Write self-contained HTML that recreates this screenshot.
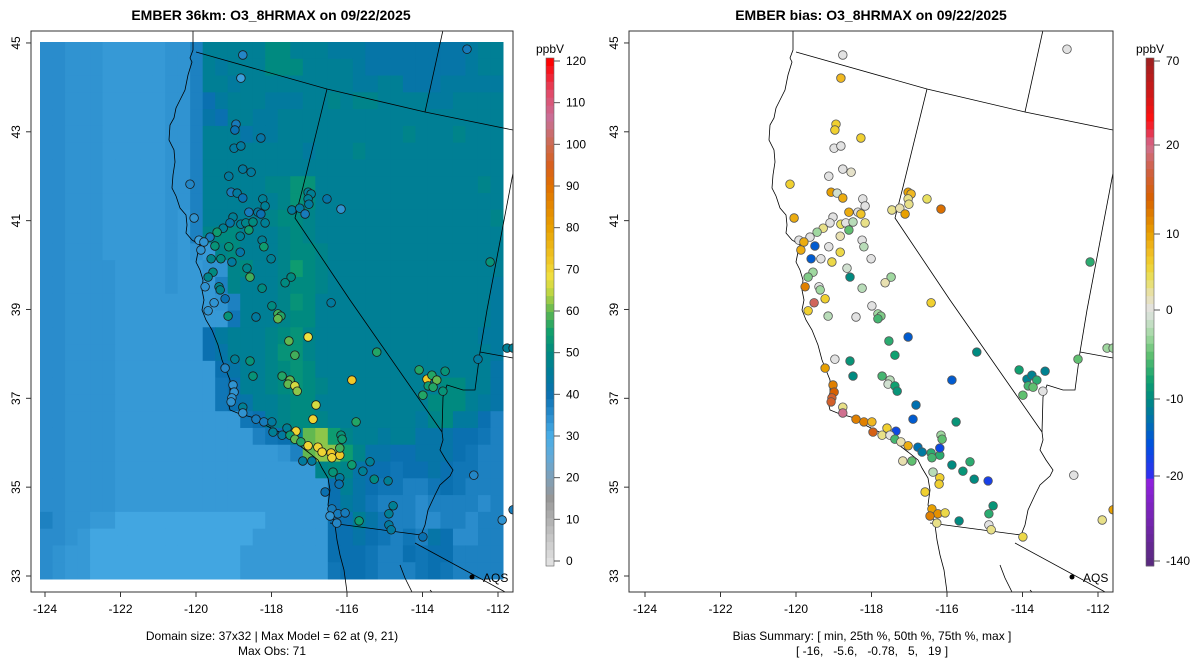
<!DOCTYPE html>
<html><head><meta charset="utf-8">
<style>
html,body{margin:0;padding:0;background:#fff;}
svg{display:block;font-family:"Liberation Sans",Arial,sans-serif;}
</style></head>
<body>
<svg id="chart" width="1200" height="672" viewBox="0 0 1200 672" xmlns="http://www.w3.org/2000/svg">
<defs>
<clipPath id="clipL"><rect x="31" y="31" width="482" height="561"/></clipPath>
<clipPath id="clipR"><rect x="629" y="31" width="484" height="561"/></clipPath>
</defs>
<text x="271" y="20" text-anchor="middle" font-weight="bold" font-size="14">EMBER 36km: O3_8HRMAX on 09/22/2025</text>
<text x="871" y="20" text-anchor="middle" font-weight="bold" font-size="14">EMBER bias: O3_8HRMAX on 09/22/2025</text>
<g id="left"></g>
<g id="right"></g>
<text x="272" y="640" text-anchor="middle" font-size="12">Domain size: 37x32 | Max Model = 62 at (9, 21)</text>
<text x="272" y="655" text-anchor="middle" font-size="12">Max Obs: 71</text>
<text x="872" y="640" text-anchor="middle" font-size="12">Bias Summary: [ min, 25th %, 50th %, 75th %, max ]</text>
<text x="872" y="655" text-anchor="middle" font-size="12" xml:space="preserve">[ -16,   -5.6,   -0.78,   5,   19 ]</text>
</svg>
<script>
// ---- data ----
const gridRows = [
"DDCCCBBBBBCCEJJJJJLLJJJIIIHHHHHHHHIJJ",
"DDCCCBBBBBCCEJIJJJLLLJJJJIHHHHHHHHIJJ",
"DDCCCBBBBBCCEJJIJJJJJJJJJIIJJHHHIIIII",
"DDCCCBBBBBCCEGIJJJIIIJJKJKKJJJJIIJJJJ",
"DDCCCBBBBBCCEHGJJIIJJJJJJJJJJJJJJJJJJ",
"DDCCCBBBBBCCEJJJHIIJJJJJJJJJJKJJJKJJJ",
"DDCCCBBBBBCCEJJJJJJJJIJJJKJJJJJJJJJJJ",
"DDCCCBBBBBCCEJJJJJJJJJJJJJJJJJJJJJJJJ",
"DDCCCBBBBBCCEJJJJJKKMMJJJJJJJJJJJJJKJ",
"DDCCCBBBBBCCEJJJJJJKMLJJJJJJJJJJJJJJJ",
"DDCCCBBBBBCBEJJJJJKLLKJJJJJJJJJJJJJJK",
"DDCCCBBBBBCBEKLLJJJKLKJJJJJJJJJJJJJJJ",
"DDCCCBBBBBCBCBKLJJJKLLKJJJJJJJJJJJJJJ",
"DDCCCCBBBBCBBCCKLJJKNLKJJJJJJJJJJJJJJ",
"DDCCCCBBBBCBBBEKJJJKLLKJJJJJJJJJJJJJI",
"DDCCCCBBBBBBBBCEJJJKMLJJJJJJJJJJJJJJI",
"DDCCCCBBBBBBBBBFJJJKLLJJJJJJJJJJJJJJI",
"DDCCCCBBBBBBBGIJJJKLMKJJJJJJJJJJJJJII",
"DDCCCCBBBBBBBGHJJJKMMKJJJJJJJJJJJJJJI",
"DDCCCCBBBBBBBBGHJJKLMLJJJJJJJJJJJJJJH",
"DDCCCCBBBBBBBBFGJJKLMLKJJJJJJJJJLLJJH",
"DDCCCCBBBBBBBBFGHJJKLLJJJJJJJJJLLLJIH",
"DDCCCCBBBBBBBBBBFGJKLLKJJJJJJJIKLIIGE",
"DDCCCCBBBBBBBBBBBEFGJQRNKJJIJJHHHGGFE",
"DDCCCCBBBBBBBBBBBBBCEQRRNKHHGGHHHGFEE",
"DDCCCCBBBBBBBBBBBBBBBBKLKHGGFGGHGFFEE",
"DDCCCCBBBBBBBBBBBBBBBBBGJHGFFEEFGFEEE",
"DDCCCCBBBBBBBBBBBBBBBBBGIHFEEEDEEEEDE",
"EDCCBBAAAAAAAAAAAABBBBBGGJHFEEDDEEDEE",
"DDCBAAAAAAAAAAAAABBBBBBGGHGFEFEHGDDEE",
"DCBBAAAAAAAAAAAABBBBBBBGGGFEEGFGGEEEE",
"DCBBAAAAAAAAAAAABBBBBBBFGGFEEEFGFEEEE"];
const levelCodes = "ABCDEFGHIJKLMNOPQR";
const levelVals = [31,33,34,35,37,39,40,42,44,46,48,50,52,54,56,58,60,62];
const stLon = [-118.76,-118.81,-112.82,-118.94,-118.97,-118.28,-118.99,-118.81,-118.76,-118.54,-119.13,-120.16,-119.07,-118.91,-118.76,-118.23,-118.17,-118.60,-118.36,-118.28,-120.05,-119.02,-119.28,-119.10,-118.81,-118.68,-118.49,-118.17,-119.44,-118.60,-118.83,-119.63,-119.92,-119.79,-119.50,-119.13,-118.83,-119.87,-118.25,-118.20,-119.60,-119.34,-119.05,-118.01,-118.65,-118.57,-119.55,-119.68,-118.25,-119.39,-119.36,-119.76,-119.23,-119.52,-117.99,-117.48,-117.64,-117.03,-116.95,-117.03,-117.01,-117.46,-117.25,-117.11,-116.53,-116.16,-116.42,-112.21,-119.68,-119.15,-118.41,-117.83,-117.75,-117.83,-117.03,-117.54,-117.38,-115.21,-118.97,-118.57,-119.23,-118.49,-117.72,-117.51,-117.56,-117.38,-117.32,-115.87,-119.02,-118.99,-119.05,-119.07,-118.76,-118.76,-116.82,-116.90,-115.76,-118.41,-118.20,-117.99,-117.59,-117.35,-117.96,-117.72,-117.51,-117.38,-117.22,-117.03,-116.77,-116.66,-116.42,-116.19,-116.16,-116.13,-116.19,-116.40,-117.17,-116.93,-115.87,-115.39,-115.58,-115.28,-114.91,-116.37,-116.19,-116.21,-116.58,-116.40,-116.24,-116.05,-116.45,-116.27,-115.68,-114.78,-114.89,-114.89,-114.83,-113.99,-114.09,-113.88,-113.75,-113.62,-113.85,-113.72,-113.40,-113.46,-113.99,-112.53,-111.76,-111.60,-112.64,-111.89,-111.60];
const stLat = [44.73,44.21,44.86,43.17,43.04,42.86,42.63,42.68,42.16,42.09,42.00,41.82,41.64,41.62,41.51,41.49,41.33,41.19,41.19,41.15,41.06,41.08,40.83,40.95,40.92,40.95,40.97,40.95,40.74,40.79,40.65,40.63,40.56,40.52,40.43,40.41,40.29,40.34,40.56,40.41,40.14,40.14,40.07,40.14,39.93,39.73,39.84,39.73,39.48,39.51,39.44,39.51,39.24,39.15,39.08,39.73,39.60,41.64,41.60,41.49,41.37,41.24,41.28,41.15,41.49,41.26,39.15,40.07,38.97,38.85,38.83,38.90,38.85,38.79,38.38,38.29,37.97,38.04,37.88,37.84,37.68,37.50,37.50,37.41,37.32,37.28,37.16,37.41,37.30,37.14,37.01,36.92,36.80,36.67,36.85,36.53,36.47,36.53,36.47,36.47,36.33,36.26,36.24,36.17,36.17,36.08,36.02,35.93,35.90,35.79,35.77,35.72,36.17,36.08,35.88,35.66,35.59,35.59,35.50,35.57,35.36,35.18,35.14,35.34,35.21,35.07,34.89,34.51,34.40,34.42,34.35,34.19,34.24,34.58,34.40,34.15,34.04,33.88,37.64,37.43,37.52,37.41,37.28,37.25,37.61,37.16,37.07,37.88,38.13,38.13,35.27,34.26,34.49];
const obsVal = [36,32,38,38,40,42,44,44,44,44,44,36,38,44,40,46,46,38,44,40,34,46,46,42,46,48,50,46,54,54,46,38,32,34,52,52,42,34,46,54,48,50,44,46,48,58,50,48,50,48,48,34,40,34,50,50,50,46,46,46,44,44,44,38,42,34,44,52,34,52,44,58,56,60,68,60,58,56,46,52,36,52,56,60,60,66,62,72,34,34,34,34,46,34,66,70,56,38,38,44,46,70,46,44,54,60,56,70,70,70,72,72,52,54,58,70,44,44,54,46,46,50,46,52,44,40,40,38,38,38,34,36,54,46,46,44,44,40,56,72,56,60,54,56,52,52,56,44,46,46,36,34,38];
const biasVal = [0,8,0,6,6,6,0,0,0,1,0,6,10,-1,9,0,0,9,0,7,9,0,3,0,4,0,-2,3,-3,-5,2,0,0,9,-15,0,5,9,0,-2,-15,0,5,0,-1,-10,-3,-4,-2,0,-3,12,6,18,0,-3,2,10,8,3,3,3,2,10,4,13,6,-7,6,-2,0,-3,-4,-6,-15,-7,-8,-10,0,-9,10,-10,-6,-2,-1,-8,-9,-15,12,14,16,16,3,20,-13,-15,-9,12,12,8,6,-17,15,3,0,-6,2,9,-13,-12,-7,-7,-3,-5,-17,-6,2,-5,-10,-7,-9,-10,-18,-2,6,6,6,10,11,5,12,3,-10,-9,-7,0,3,5,-8,-11,-11,-7,-6,-5,-11,0,-5,-5,-3,-3,0,3,10];
const lonTicks = [-124,-122,-120,-118,-116,-114,-112];
const latTicks = [33,35,37,39,41,43,45];
const obsTicks = [0,10,20,30,40,50,60,70,80,90,100,110,120];
const biasTicks = [-140,-20,-10,0,10,20,70];
const biasTickY = [561,476,399,310,234,145,61]; // colorbar label layout (non-linear scale)

// ---- axis functions ----
function xLon(lon, off){ return 45 + (lon + 124) * 37.75 + off; }
function yLat(lat){ return 576 - (lat - 33) * 44.42; }
const GX0 = 40, GY0 = 42, GW = 463/37, GH = 537/32;

const NS = 'http://www.w3.org/2000/svg';
function mk(tag, attrs, parent){ const e = document.createElementNS(NS, tag); for (const k in attrs) e.setAttribute(k, attrs[k]); parent.appendChild(e); return e; }
function hex(h){ return [parseInt(h.substr(1,2),16),parseInt(h.substr(3,2),16),parseInt(h.substr(5,2),16)]; }
function interp(stops, v){
  if (v <= stops[0][0]) return stops[0][1];
  for (let i=1;i<stops.length;i++){
    if (v <= stops[i][0]){
      const a=stops[i-1], b=stops[i], t=(v-a[0])/(b[0]-a[0]);
      const ca=hex(a[1]), cb=hex(b[1]);
      return 'rgb('+ca.map((c,j)=>Math.round(c+(cb[j]-c)*t)).join(',')+')';
    }
  }
  return stops[stops.length-1][1];
}
const obsStops = [[0,'#e0e0e0'],[10,'#b0b0b0'],[15,'#979797'],[20,'#7fa0b8'],[25,'#62aad8'],[30,'#48ade6'],[35,'#2a8ccc'],[40,'#0a70b0'],[45,'#007c9a'],[50,'#008a80'],[55,'#12a06c'],[60,'#62b850'],[64,'#b8d444'],[68,'#f0e040'],[72,'#f0c828'],[80,'#e8a000'],[90,'#e07000'],[95,'#d86020'],[100,'#cc6a50'],[106,'#c87098'],[112,'#e04c6c'],[120,'#ff0000']];
const biasStops = [[-140,'#5a2a80'],[-25,'#9020e0'],[-20,'#3030f0'],[-16,'#0050e0'],[-13,'#0070b0'],[-10,'#008a80'],[-8,'#10a070'],[-5,'#60c070'],[-3,'#a0d8a0'],[-1,'#d0e0d0'],[0,'#e2e2e2'],[2,'#e8e0b0'],[4,'#e8e060'],[6,'#f0d030'],[8,'#f0b820'],[10,'#e8a000'],[12,'#e08000'],[14,'#d86000'],[17,'#d06040'],[20,'#d07090'],[25,'#e04060'],[35,'#ff1010'],[50,'#d01818'],[70,'#a02020']];
function gridVal(ch){ const i = levelCodes.indexOf(ch); return levelVals[i < 0 ? 9 : i]; }

const coast = [[193,31],[193,50],[190,58],[192,62],[188,75],[185,90],[180,100],[176,108],[174,118],[170,125],[169,140],[174,150],[175,162],[173,175],[172,188],[176,196],[180,208],[186,215],[187,225],[186,233],[192,240],[200,245],[198,252],[196,262],[200,270],[203,280],[202,290],[204,300],[202,310],[206,320],[212,330],[218,345],[222,360],[226,370],[230,380],[230,392],[228,402],[230,410],[240,414],[255,418],[265,425],[275,430],[290,437],[300,446],[308,452],[318,460],[322,468],[328,478],[330,490],[328,505],[332,515],[335,525],[337,540],[340,555],[344,570],[347,592]];
const borders = [
 [[196,52],[327,89],[425,112],[513,130]],
 [[443,30],[425,112]],
 [[327,89],[303,187],[295,218],[350,300],[442,432]],
 [[442,432],[443,440],[440,450],[446,460],[453,470],[450,476],[440,485],[435,495],[428,510],[425,525],[421,535]],
 [[330,523],[421,535]],
 [[415,543],[507,593]],
 [[513,173],[487,310],[480,352],[475,390],[463,390],[447,385],[443,397],[442,432]],
 [[480,352],[513,358]],
 [[400,565],[405,578],[412,592]],[[430,590],[440,600]]
];

function buildPanel(g, off, clipId, isBias){
  const box = {x:31+off-(isBias?2:0), y:31, w:isBias?484:482, h:561};
  const cg = mk('g', {'clip-path':'url(#'+clipId+')'}, g);
  if (!isBias){
    const hm = mk('g', {}, cg);
    
    
    gridRows.forEach((row, r) => {
      for (let c=0;c<37;c++){
        const ch = row[c] || row[row.length-1];
        const cell = mk('rect', {x:(GX0+c*GW).toFixed(2), y:(GY0+r*GH).toFixed(2), width:(GW+0.5).toFixed(2), height:(GH+0.5).toFixed(2), fill:interp(obsStops, gridVal(ch))}, hm);
        
        
      }
    });
  }
  const bm = mk('g', {fill:'none', stroke:'#000', 'stroke-width':'0.8'}, cg);
  
  
  const pl = pts => pts.map(p => (p[0]+off)+','+p[1]).join(' ');
  mk('polyline', {points:pl(coast)}, bm);
  borders.forEach(b => mk('polyline', {points:pl(b)}, bm));
  const sg = mk('g', {}, cg);
  
  
  for (let i=0;i<stLon.length;i++){
    const v = isBias ? biasVal[i] : obsVal[i];
    const c = mk('circle', {cx:xLon(stLon[i], off).toFixed(1), cy:yLat(stLat[i]).toFixed(1), r:4.3, fill: isBias ? interp(biasStops, v) : interp(obsStops, v), stroke: isBias ? '#555' : '#1a1a1a', 'stroke-width':'0.8'}, sg);
    
    
  }
  const lg = mk('g', {}, g);
  
  
  mk('circle', {cx:472+off, cy:577, r:2.5, fill:'#000'}, lg);
  mk('text', {x:483+off, y:582, 'font-size':'12'}, lg).textContent = 'AQS';
  const fr = mk('rect', {x:box.x, y:box.y, width:box.w, height:box.h, fill:'none', stroke:'#333', 'stroke-width':'1'}, g);
  
  
  const xa = mk('g', {}, g);
  
  
  lonTicks.forEach(t => {
    const x = xLon(t, off);
    mk('line', {x1:x, x2:x, y1:592, y2:597, stroke:'#333'}, xa);
    const tx = mk('text', {x:x, y:613, 'text-anchor':'middle', 'font-size':'12'}, xa);
    tx.textContent = t;
    
    
  });
  const ya = mk('g', {}, g);
  
  
  latTicks.forEach(t => {
    const y = yLat(t);
    mk('line', {x1:box.x-5, x2:box.x, y1:y, y2:y, stroke:'#333'}, ya);
    const tx = mk('text', {x:box.x-11, y:y, 'text-anchor':'middle', 'font-size':'12', transform:'rotate(-90 '+(box.x-11)+' '+y+')'}, ya);
    tx.textContent = t;
    
    
  });
}

function buildColorbar(g, x, isBias){
  const cb = mk('g', {}, g);
  
  
  const top = 58, bot = 566, n = 64;
  const yv = isBias ? biasTickY : obsTicks.map(v => 561 - v*500/120);
  const vv = isBias ? biasTicks : obsTicks;
  function valAt(y){
    if (!isBias) return (561 - y) * 120/500;
    for (let i=0;i<yv.length-1;i++){
      if (y <= yv[i] && y >= yv[i+1]) return vv[i] + (vv[i+1]-vv[i])*(yv[i]-y)/(yv[i]-yv[i+1]);
    }
    return y > yv[0] ? vv[0] : vv[vv.length-1];
  }
  const h = (bot-top)/n;
  for (let i=0;i<n;i++){
    const y = top + i*h;
    const v = valAt(y + h/2);
    mk('rect', {x:x, y:y.toFixed(2), width:8, height:(h+0.4).toFixed(2), fill: interp(isBias?biasStops:obsStops, v)}, cb);
  }
  mk('rect', {x:x, y:top, width:8, height:bot-top, fill:'none', stroke:'#666', 'stroke-width':'0.6'}, cb);
  vv.forEach((v,i) => {
    const y = yv[i];
    mk('line', {x1:x+8, x2:x+14, y1:y, y2:y, stroke:'#555'}, cb);
    const t = mk('text', {x:x+20, y:y+4, 'font-size':'12'}, cb);
    t.textContent = v;
  });
  const u = mk('text', {x:x+4, y:53, 'text-anchor':'middle', 'font-size':'12'}, cb);
  u.textContent = 'ppbV';
  
  
}

buildPanel(document.getElementById('left'), 0, 'clipL', false);
buildPanel(document.getElementById('right'), 600, 'clipR', true);
buildColorbar(document.getElementById('left'), 546, false);
buildColorbar(document.getElementById('right'), 1146, true);
</script>
</body></html>
